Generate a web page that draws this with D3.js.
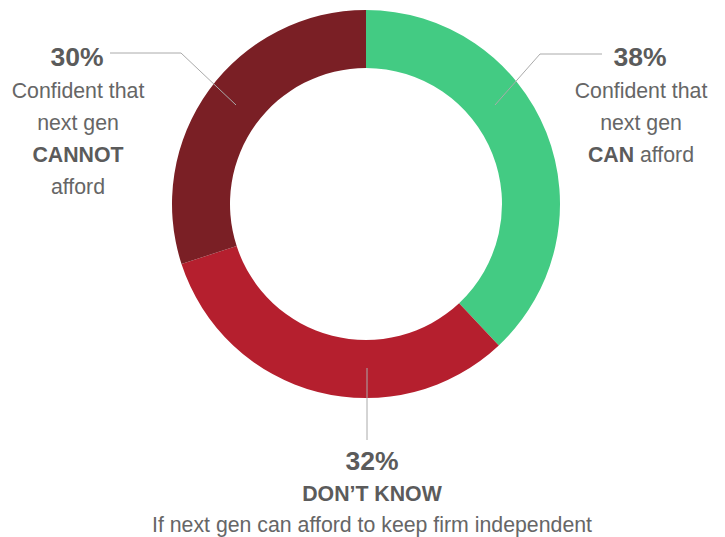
<!DOCTYPE html>
<html>
<head>
<meta charset="utf-8">
<script src="https://cdn.jsdelivr.net/npm/d3@7"></script>
<style>
  html, body { margin: 0; padding: 0; background: #fff; }
  svg { display: block; }
  text { font-family: "Liberation Sans", Arial, sans-serif; }
</style>
</head>
<body>
<svg id="chart" width="725" height="537"></svg>
<script>
// Survey answers, clockwise from 12 o'clock
const categories = ["CAN", "DON'T KNOW", "CANNOT"];
const values = [38, 32, 30];
const sliceColors = ["#43cb83", "#b51f2e", "#7a1f25"];
const subtitle = "If next gen can afford to keep firm independent";

const svg = d3.select("#chart");
const cx = 366, cy = 204;
const outerR = 194, innerR = 136;

const pie = d3.pie().sort(null).value(d => d.value);
const arc = d3.arc().innerRadius(innerR).outerRadius(outerR);

const data = categories.map((c, i) => ({ key: c, value: values[i], color: sliceColors[i] }));

const g = svg.append("g").attr("transform", `translate(${cx},${cy})`);
g.selectAll("path")
  .data(pie(data))
  .join("path")
  .attr("d", arc)
  .attr("fill", d => d.data.color);

// Leader lines (drawn in chart coordinates)
const leaderColor = "#aaaaaa";
const leaders = [
  [[602, 54], [540, 54], [495, 105]],   // CAN
  [[367, 368], [367, 440]],             // DON'T KNOW
  [[110, 53], [181, 53], [236, 105]]    // CANNOT
];
svg.selectAll("polyline.leader")
  .data(leaders)
  .join("polyline")
  .attr("class", "leader")
  .attr("points", d => d.map(p => p.join(",")).join(" "))
  .attr("fill", "none")
  .attr("stroke", leaderColor)
  .attr("stroke-width", 1);

const pctColor = "#5b5b5b";
const bodyColor = "#666666";
const pctSize = 26.5, bodySize = 21.3;

function pctLabel(x, y, i) {
  svg.append("text")
    .attr("x", x).attr("y", y)
    .attr("text-anchor", "middle")
    .attr("font-size", pctSize)
    .attr("font-weight", "bold")
    .attr("fill", pctColor)
    .text(values[i] + "%");
}

function bodyLine(x, y, parts) {
  const t = svg.append("text")
    .attr("x", x).attr("y", y)
    .attr("text-anchor", "middle")
    .attr("font-size", bodySize)
    .attr("fill", bodyColor);
  parts.forEach(p => {
    t.append("tspan")
      .attr("font-weight", p.bold ? "bold" : "normal")
      .attr("fill", p.bold ? pctColor : bodyColor)
      .text(p.text);
  });
}

// Right: CAN
pctLabel(640, 66, 0);
bodyLine(641, 98, [{ text: "Confident that" }]);
bodyLine(641, 130, [{ text: "next gen" }]);
bodyLine(641, 162, [{ text: categories[0], bold: true }, { text: " afford" }]);

// Left: CANNOT
pctLabel(77, 66, 2);
bodyLine(78, 98, [{ text: "Confident that" }]);
bodyLine(78, 130, [{ text: "next gen" }]);
bodyLine(78, 162, [{ text: categories[2], bold: true }]);
bodyLine(78, 194, [{ text: "afford" }]);

// Bottom: DON'T KNOW
pctLabel(372, 470, 1);
bodyLine(372, 501, [{ text: "DON\u2019T KNOW", bold: true }]);
bodyLine(372, 532, [{ text: subtitle }]);
</script>
</body>
</html>
